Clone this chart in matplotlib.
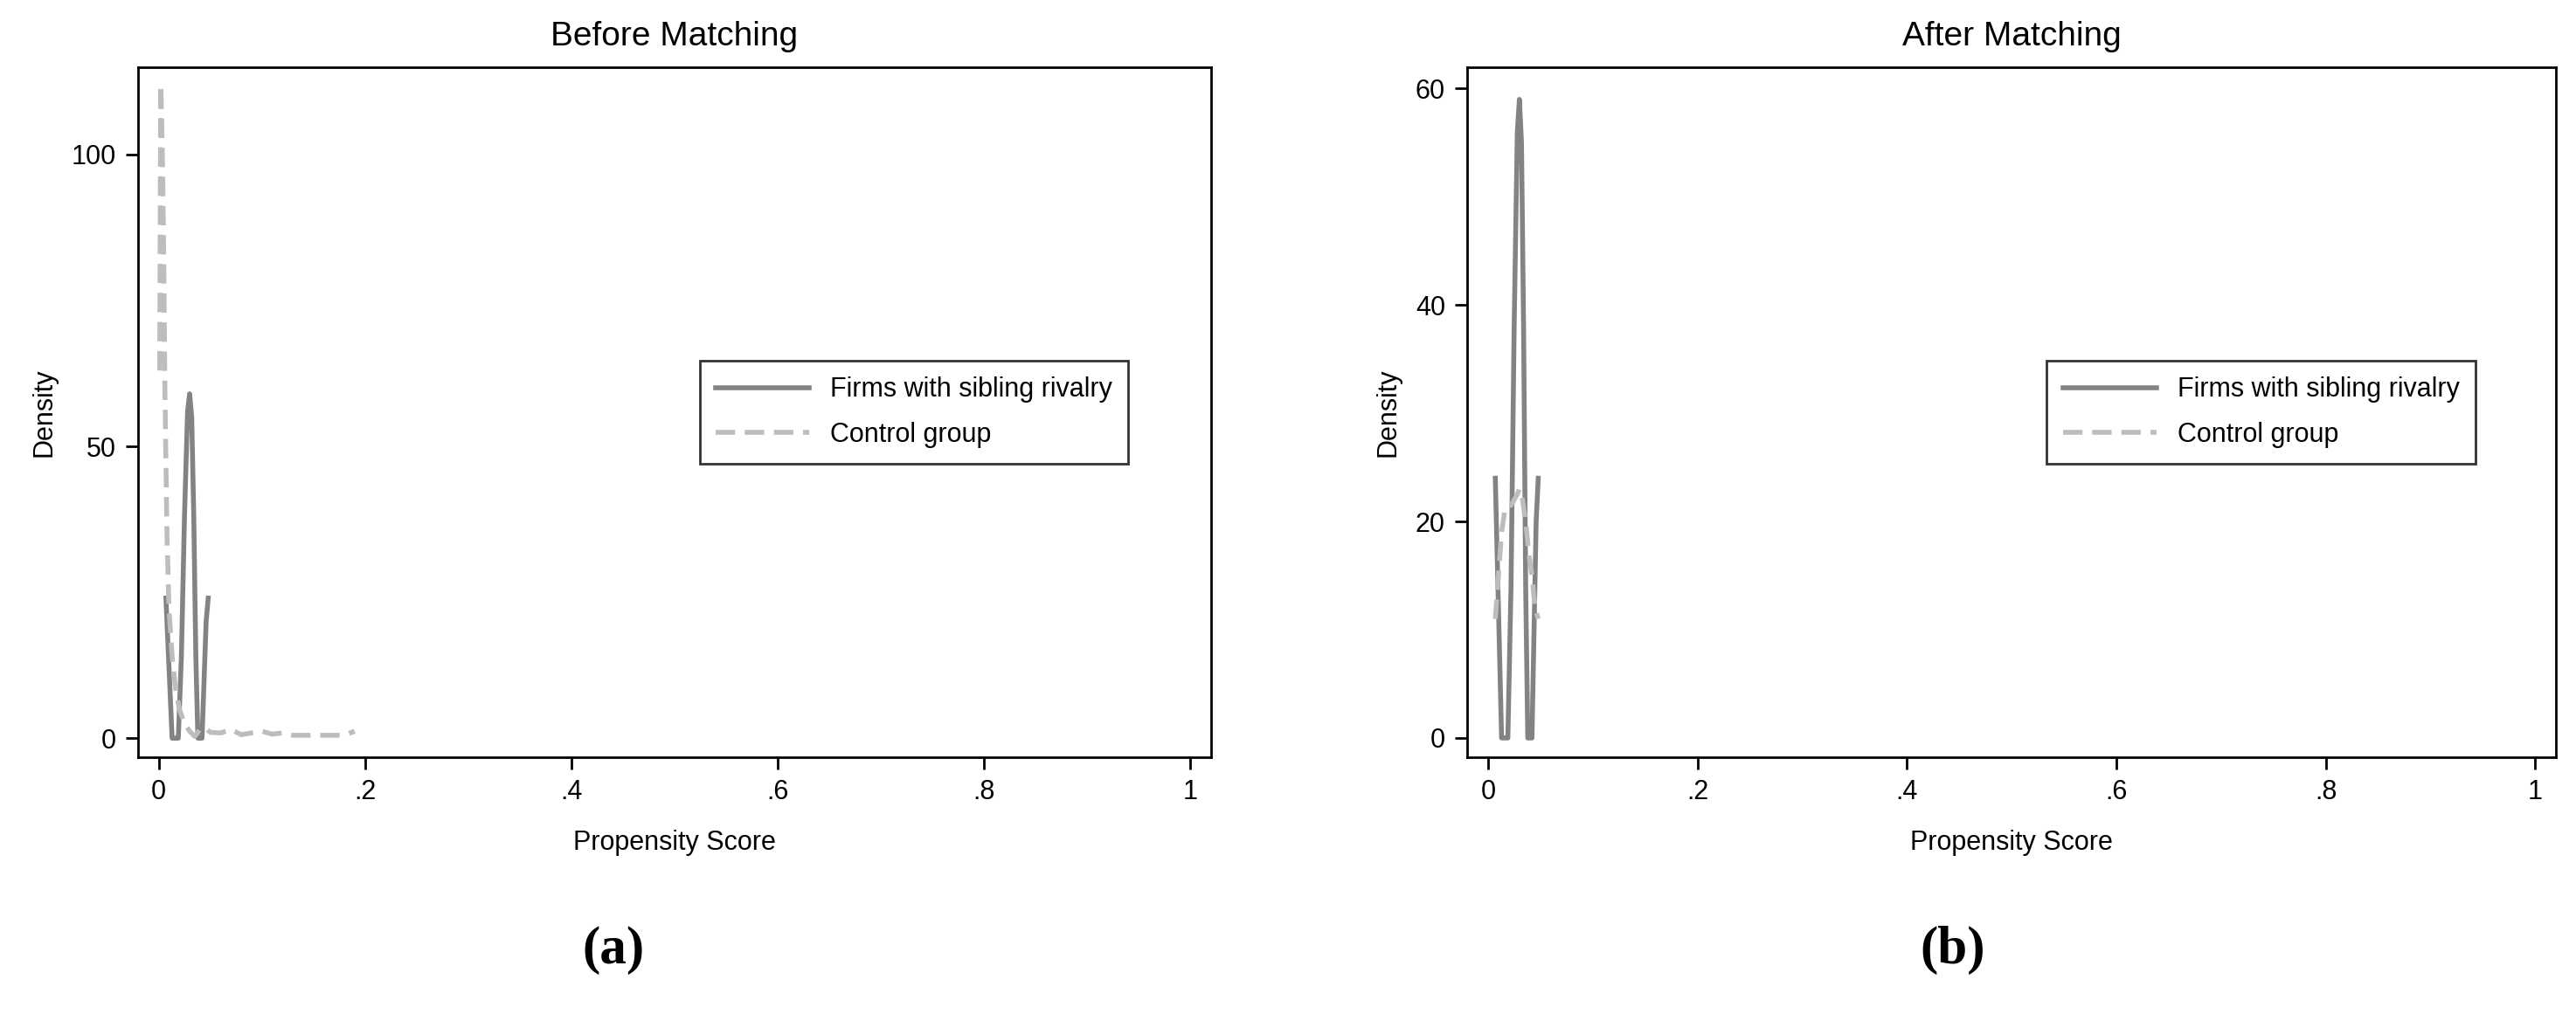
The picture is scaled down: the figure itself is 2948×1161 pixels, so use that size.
import matplotlib
matplotlib.use("Agg")
import matplotlib.pyplot as plt

plt.rcParams['font.family'] = ['Liberation Sans', 'DejaVu Sans']

# Panel (a) data
treat_x = [0.007, 0.009, 0.011, 0.013, 0.015, 0.017, 0.019, 0.022, 0.025, 0.028, 0.030, 0.032, 0.034, 0.036, 0.038, 0.040, 0.042, 0.044, 0.046, 0.048]
treat_y = [24, 16, 8, 0, 0, 0, 0, 14, 38, 56, 59, 55, 38, 14, 0, 0, 0, 10, 20, 24]
ctrl_a_x = [0.001, 0.0015, 0.002, 0.003, 0.004, 0.005, 0.006, 0.008, 0.010, 0.013, 0.016, 0.020, 0.025, 0.030, 0.035, 0.040, 0.045, 0.050, 0.060, 0.070, 0.080, 0.090, 0.100, 0.110, 0.120, 0.130, 0.140, 0.150, 0.160, 0.170, 0.180, 0.190]
ctrl_a_y = [63, 90, 112, 105, 95, 80, 60, 35, 22, 14, 9, 5, 2.5, 1.2, 0.3, 1.5, 1.8, 1.0, 0.9, 1.5, 0.6, 0.9, 1.2, 0.7, 0.9, 0.5, 0.5, 0.5, 0.5, 0.5, 0.5, 1.2]

# Panel (b) data
ctrl_b_x = [0.007, 0.010, 0.013, 0.016, 0.019, 0.022, 0.025, 0.028, 0.030, 0.033, 0.036, 0.039, 0.042, 0.045, 0.048]
ctrl_b_y = [11, 15, 19, 21, 21.5, 21.5, 22, 22.5, 23, 22, 20, 17, 15, 12, 11]

xticks = [0, 0.2, 0.4, 0.6, 0.8, 1.0]
xticklabels = ['0', '.2', '.4', '.6', '.8', '1']
yticks_a = [0, 50, 100]
yticks_b = [0, 20, 40, 60]

fig = plt.figure(figsize=(29.48, 11.61), dpi=100)
ax1 = fig.add_axes([0.0536, 0.253, 0.4164, 0.681])
ax2 = fig.add_axes([0.5695, 0.253, 0.4228, 0.681])

dark = '#838383'
light = '#bdbdbd'

def style(ax, title, ylim, yticks, leg_x):
    ax.set_xlim(-0.02, 1.02)
    ax.set_ylim(*ylim)
    ax.set_xticks(xticks)
    ax.set_xticklabels(xticklabels)
    ax.set_yticks(yticks)
    ax.tick_params(labelsize=22, length=10, width=2, pad=8)
    for s in ax.spines.values():
        s.set_linewidth(2)
    ax.set_title(title, fontsize=28, pad=18)
    ax.set_xlabel('Propensity Score', fontsize=22, labelpad=20)
    ax.set_ylabel('Density', fontsize=22, labelpad=12)
    leg = ax.legend(loc='center left', bbox_to_anchor=(leg_x, 0.5), fontsize=22,
                    frameon=True, fancybox=False, edgecolor='black',
                    handlelength=3.5, borderpad=0.6, labelspacing=0.7)
    leg.get_frame().set_linewidth(2)

ax1.plot(treat_x, treat_y, color=dark, lw=4, label='Firms with sibling rivalry')
ax1.plot(ctrl_a_x, ctrl_a_y, color=light, lw=4, ls=(0, (4, 2)), label='Control group')
style(ax1, 'Before Matching', (-3.3, 115), yticks_a, 0.511)

ax2.plot(treat_x, treat_y, color=dark, lw=4, label='Firms with sibling rivalry')
ax2.plot(ctrl_b_x, ctrl_b_y, color=light, lw=4, ls=(0, (4, 2)), label='Control group')
style(ax2, 'After Matching', (-1.8, 62), yticks_b, 0.52)

fig.text(0.238, 0.05, '(a)', fontsize=44, family='Liberation Serif', ha='center', weight='bold')
fig.text(0.758, 0.05, '(b)', fontsize=44, family='Liberation Serif', ha='center', weight='bold')

fig.savefig('out.png', dpi=100)
